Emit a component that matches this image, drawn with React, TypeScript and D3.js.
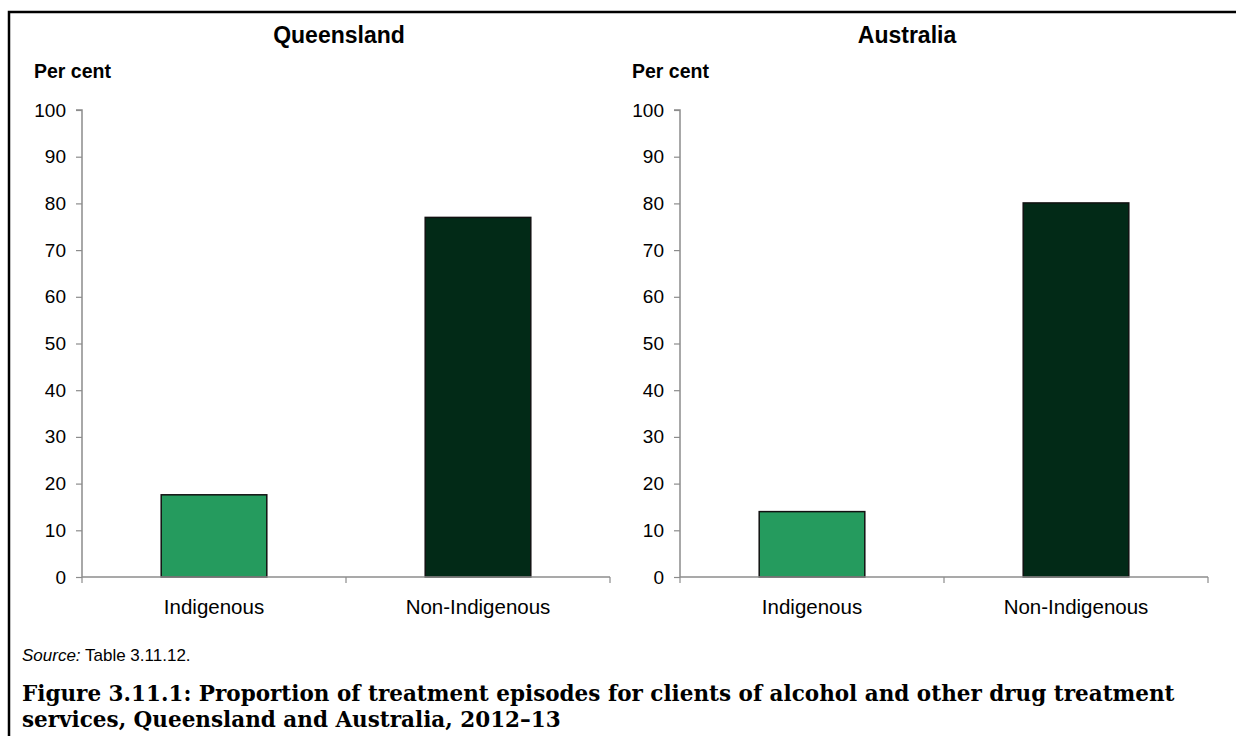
import * as React from 'react';
import {useEffect, useRef} from 'react';
import * as d3 from 'd3';

const categories = ['Indigenous', 'Non-Indigenous'];
const queenslandValues = [17.6, 77.0];
const australiaValues = [14.0, 80.1];
const panelTitles = ['Queensland', 'Australia'];
const yTicks = [0, 10, 20, 30, 40, 50, 60, 70, 80, 90, 100];
const barColors = ['#259B5E', '#022A17'];

const W = 1236;
const H = 736;
const sans = 'Liberation Sans, Arial, sans-serif';

const App = () => {
    const chartRef = useRef(null);

    useEffect(() => {
        const svg = d3.select(chartRef.current);
        svg.selectAll('*').remove();

        svg.append('rect').attr('width', W).attr('height', H).attr('fill', 'white');

        // frame (top + left edge only)
        svg.append('path')
            .attr('d', `M9,${H} L9,12 L${W},12`)
            .attr('fill', 'none')
            .attr('stroke', 'black')
            .attr('stroke-width', 2.5);

        const panels = [
            {title: panelTitles[0], values: queenslandValues, x0: 82, x1: 610, cx: 339},
            {title: panelTitles[1], values: australiaValues, x0: 680, x1: 1208, cx: 907},
        ];

        panels.forEach((p) => {
            const g = svg.append('g');

            const yScale = d3.scaleLinear().domain([0, 100]).range([577, 110]);
            const xScale = d3.scaleBand()
                .domain(categories)
                .range([p.x0, p.x1])
                .paddingInner(0.6)
                .paddingOuter(0.3);

            g.append('text')
                .attr('x', p.cx)
                .attr('y', 43)
                .attr('text-anchor', 'middle')
                .style('font-family', sans)
                .style('font-size', '23px')
                .style('font-weight', 'bold')
                .text(p.title);

            g.append('text')
                .attr('x', p.x0 - 48)
                .attr('y', 78)
                .style('font-family', sans)
                .style('font-size', '19.5px')
                .style('font-weight', 'bold')
                .text('Per cent');

            // bars
            g.selectAll('rect.bar')
                .data(p.values)
                .enter()
                .append('rect')
                .attr('class', 'bar')
                .attr('x', (d, i) => xScale(categories[i]))
                .attr('y', d => yScale(d))
                .attr('width', xScale.bandwidth())
                .attr('height', d => yScale(0) - yScale(d))
                .attr('fill', (d, i) => barColors[i])
                .attr('stroke', '#111')
                .attr('stroke-width', 1.5);

            // y axis
            const yAxis = g.append('g')
                .attr('transform', `translate(${p.x0},0)`)
                .call(d3.axisLeft(yScale).tickValues(yTicks).tickSize(6).tickPadding(10));
            yAxis.select('.domain').attr('stroke', '#8c8c8c').attr('stroke-width', 1.5).attr('d', `M-6,${yScale(100)}H0V${yScale(0)}`);
            yAxis.selectAll('.tick line').attr('stroke', '#8c8c8c').attr('stroke-width', 1.2);
            yAxis.selectAll('text')
                .style('font-family', sans)
                .style('font-size', '19px')
                .attr('fill', '#000');

            // x axis
            const xAxis = g.append('g').attr('transform', `translate(0,${yScale(0)})`);
            xAxis.append('line')
                .attr('x1', p.x0)
                .attr('x2', p.x1)
                .attr('stroke', '#8c8c8c')
                .attr('stroke-width', 1.5);
            const step = xScale.step();
            const bounds = [p.x0, p.x0 + step, p.x1];
            xAxis.selectAll('line.tk')
                .data(bounds)
                .enter()
                .append('line')
                .attr('class', 'tk')
                .attr('x1', d => d)
                .attr('x2', d => d)
                .attr('y1', 0)
                .attr('y2', 6)
                .attr('stroke', '#8c8c8c')
                .attr('stroke-width', 1.2);
            xAxis.selectAll('text')
                .data(categories)
                .enter()
                .append('text')
                .attr('x', d => xScale(d) + xScale.bandwidth() / 2)
                .attr('y', 37)
                .attr('text-anchor', 'middle')
                .style('font-family', sans)
                .style('font-size', '20.5px')
                .text(d => d);
        });

        const src = svg.append('text')
            .attr('x', 22)
            .attr('y', 661)
            .style('font-family', sans)
            .style('font-size', '17px');
        src.append('tspan').style('font-style', 'italic').text('Source:');
        src.append('tspan').text(' Table 3.11.12.');

        const caption = [
            'Figure 3.11.1: Proportion of treatment episodes for clients of alcohol and other drug treatment',
            'services, Queensland and Australia, 2012–13',
        ];
        svg.selectAll('text.cap')
            .data(caption)
            .enter()
            .append('text')
            .attr('class', 'cap')
            .attr('x', 22)
            .attr('y', (d, i) => 701 + i * 26)
            .style('font-family', 'DejaVu Serif, serif')
            .style('font-size', '21.5px')
            .style('font-weight', 'bold')
            .text(d => d);
    }, []);

    return (
        <svg ref={chartRef} width={W} height={H} style={{position: 'absolute', left: 0, top: 0, display: 'block'}}></svg>
    );
};

export default App;
